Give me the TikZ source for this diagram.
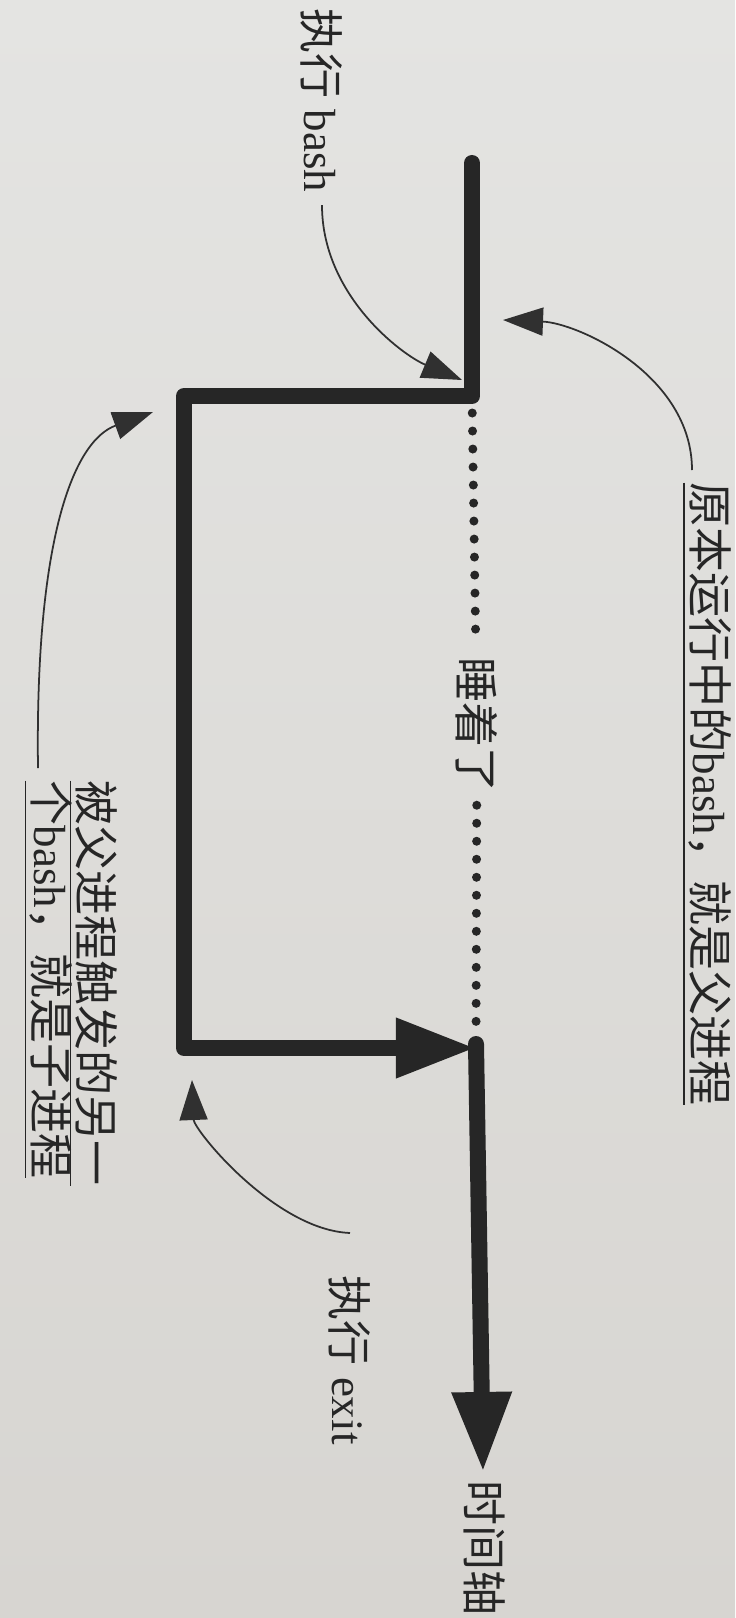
\documentclass[tikz,border=0pt]{standalone}
\usepackage{fontspec}
\setmainfont{Liberation Serif}
\newfontfamily\zhfont{Noto Sans CJK SC}
\newcommand\zh[1]{{\zhfont #1}}
\usepackage{tikz}
\usetikzlibrary{arrows.meta}
\definecolor{ink}{HTML}{262626}
\definecolor{pencil}{HTML}{303030}
\definecolor{paper}{HTML}{E4E4E2}
\definecolor{paperdark}{HTML}{CDCAC3}
\definecolor{paperlow}{HTML}{D7D5D1}
\tikzset{
  lbl/.style={rotate=-90,anchor=west,inner sep=1.2mm,text=ink,font=\fontsize{12.8}{16}\selectfont},
  tline/.style={draw=ink,line width=1.6mm,line cap=round,line join=round},
  bigtip/.style={-{Triangle[length=8mm,width=5.6mm]}},
  dots/.style={draw=ink,line width=0.9mm,line cap=round,dash pattern=on 0pt off 1.8mm},
  note/.style={draw=pencil,line width=0.5pt,-{Triangle[length=4mm,width=2.8mm]}}}

\begin{document}
\begin{tikzpicture}[x=0.01cm,y=-0.01cm]
  \shade[top color=paper,middle color=paperdark,bottom color=paperlow] (0,0) rectangle (735,1618);
  \useasboundingbox (0,0) rectangle (735,1618);
  % the time line
  \coordinate (run) at (472,163);
  \coordinate (fork) at (472,396);
  \coordinate (kidtop) at (184,396);
  \coordinate (kidend) at (184,1048);
  \coordinate (back) at (476,1044);
  \coordinate (axis) at (483,1472);
  \draw[tline,bigtip] (run) -- (fork) -- (kidtop) -- (kidend) -- (back |- kidend);
  \draw[tline,bigtip] (back) -- (axis);
  \node[lbl] (axislbl) at (485,1468) {\zh{时间轴}};
  % parent asleep
  \node[lbl,anchor=center] (sleep) at (477,725) {\zh{睡着了}};
  \draw[dots,shorten <=1.7mm] (fork) -- (sleep);
  \draw[dots,shorten >=1.7mm] (sleep) -- (back);
  % notes
  \node[lbl] (bashlbl) at (322,-4) {\zh{执行} bash};
  \coordinate (bashtip) at (462,380);
  \draw[note] (bashlbl.east) .. controls +(0,90) and +(-60,-25) .. (bashtip);
  \node[lbl] (parentlbl) at (707,470) {\underline{\zh{原本运行中的}bash\zh{，就是父进程}}};
  \coordinate (parenttip) at (503,320);
  \draw[note] ([xshift=-1.5mm]parentlbl.west) .. controls +(0,-95) and +(75,3) .. (parenttip);
  \node[lbl] (kid1) at (93,768) {\underline{\zh{被父进程触发的另一}}};
  \node[lbl] (kid2) at (48,768) {\underline{\zh{个}bash\zh{，就是子进程}}};
  \coordinate (kidtip) at (153,412);
  \draw[note] ([xshift=-1mm]kid2.west) .. controls +(-3,-228) and +(-80,29) .. (kidtip);
  \node[lbl] (exitlbl) at (350,1263) {\zh{执行} exit};
  \coordinate (exittip) at (192,1080);
  \draw[note] ([yshift=3mm]exitlbl.west) .. controls +(-75,-3) and +(2,50) .. (exittip);
\end{tikzpicture}
\end{document}
